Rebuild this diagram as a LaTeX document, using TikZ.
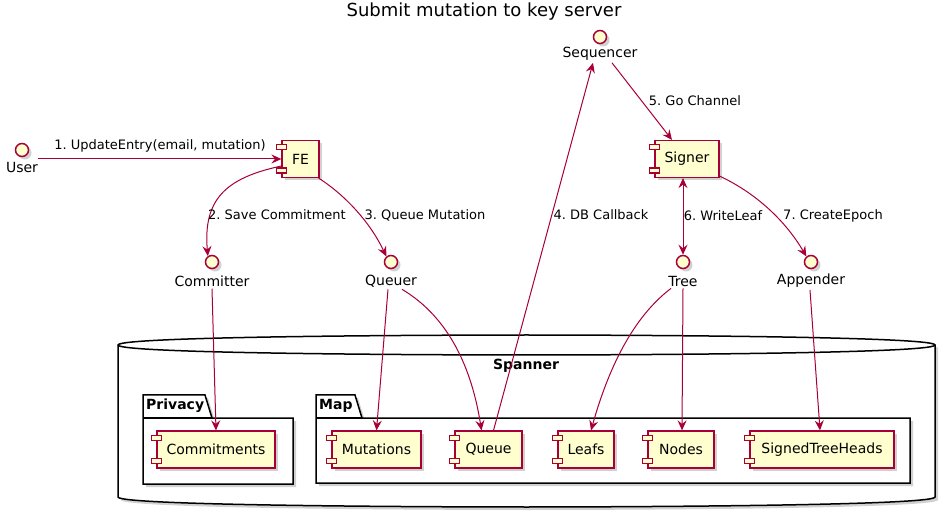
\documentclass[tikz,border=0pt]{standalone}
\usepackage{fontspec}
\setmainfont{DejaVu Sans}
\usetikzlibrary{shadows,arrows.meta}
\definecolor{umlred}{HTML}{A80036}
\definecolor{umlfill}{HTML}{FEFECE}
\frenchspacing
\tikzset{
 shd/.style={drop shadow={shadow xshift=3pt,shadow yshift=-3pt,opacity=0.3,fill=black!60}},
 comp/.style={draw=umlred, fill=umlfill, line width=1.2pt, minimum height=37pt, inner sep=0pt, font=\fontsize{14}{16}\selectfont, shd},
 compsm/.style={draw=umlred, fill=umlfill, line width=1.2pt},
 iface/.style={circle, draw=umlred, fill=umlfill, line width=1.5pt, minimum size=13pt, inner sep=0pt, shd},
 ilabel/.style={font=\fontsize{14}{16}\selectfont, inner sep=0pt},
 elabel/.style={font=\fontsize{13}{15}\selectfont, inner sep=0pt},
 arr/.style={draw=umlred, line width=1pt, -{Stealth[length=10pt,width=9pt,inset=3.5pt]}},
 arrboth/.style={draw=umlred, line width=1pt, {Stealth[length=10pt,width=9pt,inset=3.5pt]}-{Stealth[length=10pt,width=9pt,inset=3.5pt]}},
 pkg/.style={draw=black, line width=1.5pt, fill=white, shd},
 pkglabel/.style={font=\fontsize{14}{16}\selectfont\bfseries, inner sep=0pt, anchor=west},
}
\newcommand\umlcomp[5]{%
 \node[comp, minimum width=#4pt] (#1) at (#2,#3) {#5};
 \draw[compsm] ([xshift=-5pt,yshift=-5pt]#1.north west) rectangle ++(10pt,-5pt);
 \draw[compsm] ([xshift=-5pt,yshift=10pt]#1.south west) rectangle ++(10pt,-5pt);
}
\begin{document}
\begin{tikzpicture}[x=1pt,y=-1pt]
\useasboundingbox (0,0) rectangle (945,518);
% title
\node[font=\fontsize{18}{20}\selectfont, inner sep=0pt] (title) at (484,12) {Submit mutation to key server};
% database
\path[draw=black, line width=1.5pt, fill=white, shd]
 (118,345) .. controls (118,335) and (526.5,335) .. (526.5,335)
 .. controls (526.5,335) and (935,335) .. (935,345)
 -- (935,497) .. controls (935,507) and (526.5,507) .. (526.5,507)
 .. controls (526.5,507) and (118,507) .. (118,497) -- cycle;
\draw[black, line width=1.5pt] (118,345) .. controls (118,355) and (526.5,355) .. (526.5,355)
 .. controls (526.5,355) and (935,355) .. (935,345);
\node[font=\fontsize{14}{16}\selectfont\bfseries, inner sep=0pt] (spanner) at (526,366) {Spanner};
% packages
\path[pkg] (143,395) -- (205,395) -- (212,418) -- (293,418) -- (293,484) -- (143,484) -- cycle;
\draw[black, line width=1.5pt] (143,418) -- (212,418);
\node[pkglabel] (privacyl) at (146,406) {Privacy};
\path[pkg] (316,395) -- (355,395) -- (362,418) -- (910,418) -- (910,483) -- (316,483) -- cycle;
\draw[black, line width=1.5pt] (316,418) -- (362,418);
\node[pkglabel] (mapl) at (319,406) {Map};
% components
\umlcomp{fe}{300.5}{159}{37}{FE}
\umlcomp{signer}{687}{159}{64}{Signer}
\umlcomp{commitments}{216}{449.5}{118}{Commitments}
\umlcomp{mutations}{376.5}{449.5}{89}{Mutations}
\umlcomp{queue}{488.5}{449.5}{67}{Queue}
\umlcomp{leafs}{586}{449.5}{56}{Leafs}
\umlcomp{nodes}{681}{449.5}{66}{Nodes}
\umlcomp{sth}{822}{449.5}{144}{SignedTreeHeads}
% interfaces
\node[iface] (user) at (22,150) {};
\node[ilabel] (userl) at (22,167) {User};
\node[iface] (seq) at (600,37) {};
\node[ilabel] (seql) at (600,54) {Sequencer};
\node[iface] (committer) at (212,262) {};
\node[ilabel] (committerl) at (212,281) {Committer};
\node[iface] (queuer) at (391,262) {};
\node[ilabel] (queuerl) at (391,281) {Queuer};
\node[iface] (tree) at (683,262) {};
\node[ilabel] (treel) at (683,281) {Tree};
\node[iface] (appender) at (811,262) {};
\node[ilabel] (appenderl) at (811,281) {Appender};
% edges
\draw[arr] (userl.east |- fe.west) -- (fe.west);
\node[elabel] (l1) at (160,146) {1. UpdateEntry(email, mutation)};
\draw[arr] ([yshift=-7pt]fe.west) .. controls (225,178) and (203,200) .. (committer.125);
\node[elabel] (l2) at (277,215) {2. Save Commitment};
\draw[arr] ([xshift=-1pt]fe.south east) .. controls (345,195) and (370,222) .. (queuer.130);
\node[elabel] (l3) at (425,215) {3. Queue Mutation};
\draw[arr] ([xshift=5pt]queue.north) -- ([xshift=-7pt,yshift=-2pt]seql.south);
\node[elabel] (l4) at (601,215) {4. DB Callback};
\draw[arr] ([xshift=12pt,yshift=-2pt]seql.south) -- ([xshift=-15pt]signer.north);
\node[elabel] (l5) at (695,101) {5. Go Channel};
\draw[arrboth] ([xshift=-4pt]signer.south) -- (tree.north);
\node[elabel] (l6) at (723,216) {6. WriteLeaf};
\draw[arr] ([yshift=2pt]signer.south east) .. controls (760,195) and (788,225) .. (appender.130);
\node[elabel] (l7) at (833,216) {7. CreateEpoch};
\draw[arr] ([yshift=-2pt]committerl.south) -- (commitments.north);
\draw[arr] ([xshift=-3pt,yshift=-2pt]queuerl.south) -- (mutations.north);
\draw[arr] ([xshift=11pt,yshift=-2pt]queuerl.south) .. controls (450,318) and (472,370) .. ([xshift=-7pt]queue.north);
\draw[arr] ([xshift=-12pt,yshift=-2pt]treel.south) .. controls (632,318) and (608,370) .. ([xshift=5pt]leafs.north);
\draw[arr] ([yshift=-2pt]treel.south) -- ([xshift=1pt]nodes.north);
\draw[arr] ([xshift=-1pt,yshift=-2pt]appenderl.south) -- ([xshift=-2pt]sth.north);
\end{tikzpicture}
\end{document}
